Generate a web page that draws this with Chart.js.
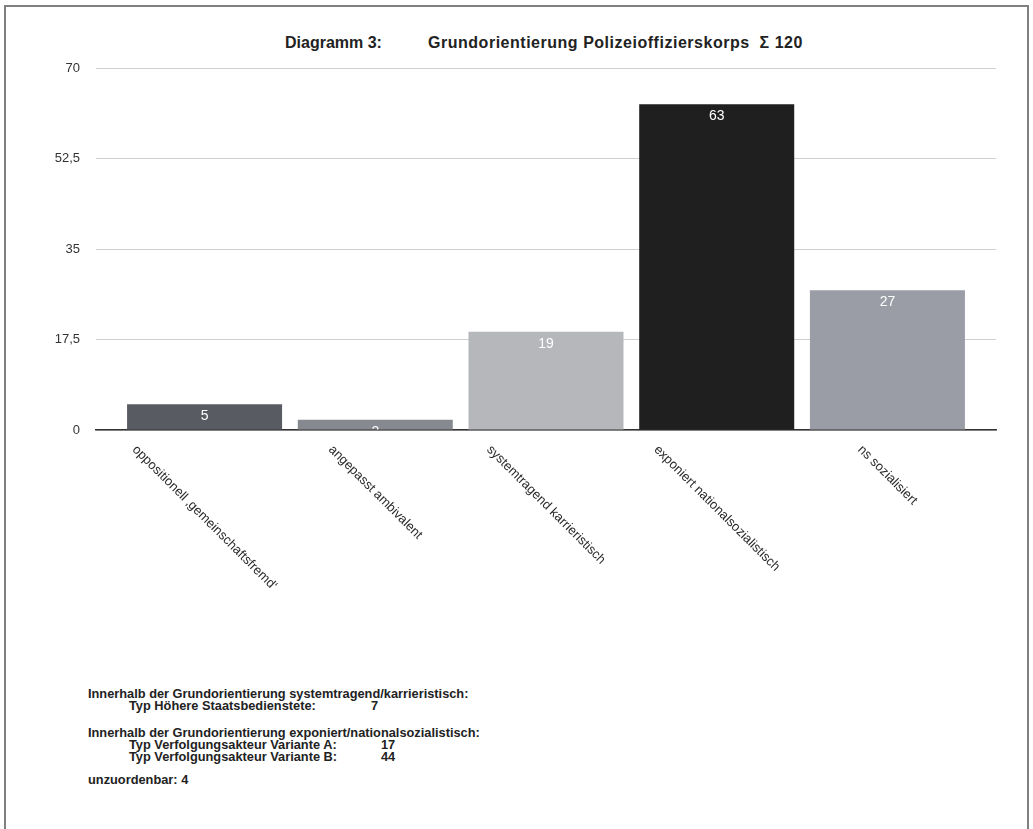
<!DOCTYPE html>
<html>
<head>
<meta charset="utf-8">
<script src="https://cdn.jsdelivr.net/npm/chart.js@4"></script>
<style>
  body { margin: 0; background: #fff; font-family: "Liberation Sans", Arial, sans-serif; }
  .frame { position: absolute; left: 4px; top: 5px; width: 1025px; height: 840px;
           border: 2px solid #808080; box-sizing: border-box; }
  .chart-box { position: absolute; left: 0; top: 0; width: 1033px; height: 640px; }
  .title { position: absolute; top: 34px; font-size: 16px; font-weight: bold; color: #222;
           white-space: pre; line-height: 18px; }
  .notes { position: absolute; left: 88px; top: 688px; font-size: 12.8px; font-weight: bold;
           color: #222; line-height: 11.7px; }
  .notes div { height: 11.7px; position: relative; }
  .notes .gap1 { height: 16px; }
  .notes .gap2 { height: 12px; }
  .notes .ind { padding-left: 41px; }
  .notes .val { position: absolute; left: 293px; }
  .notes .val.one { left: 283px; }
</style>
</head>
<body>
<div class="frame"></div>
<div class="title" style="left:285px">Diagramm 3:</div>
<div class="title" id="mainTitle" style="left:428px">Grundorientierung Polizeioffizierskorps  Σ 120</div>
<div class="chart-box"><canvas id="orientChart" width="1033" height="640"></canvas></div>
<div class="notes">
  <div>Innerhalb der Grundorientierung systemtragend/karrieristisch:</div>
  <div class="ind">Typ Höhere Staatsbedienstete:<span class="val one">7</span></div>
  <div class="gap1"></div>
  <div>Innerhalb der Grundorientierung exponiert/nationalsozialistisch:</div>
  <div class="ind">Typ Verfolgungsakteur Variante A:<span class="val">17</span></div>
  <div class="ind">Typ Verfolgungsakteur Variante B:<span class="val">44</span></div>
  <div class="gap2"></div>
  <div>unzuordenbar: 4</div>
</div>
<script>
// Chart data
const categories = [
    'oppositionell ‚gemeinschaftsfremd‘',
    'angepasst ambivalent',
    'systemtragend karrieristisch',
    'exponiert nationalsozialistisch',
    'ns sozialisiert'
];
const counts = [5, 2, 19, 63, 27];
const barColors = ['#585b62', '#868990', '#b6b7bb', '#1f1f1f', '#9a9da6'];
const yTicks = [0, 17.5, 35, 52.5, 70];

let orientChart;

document.addEventListener('DOMContentLoaded', function() {
    fitTitle();
    initializeChart();
});

// Stretch the main title slightly so it ends where the original does
function fitTitle() {
    const el = document.getElementById('mainTitle');
    const target = 375;
    const w = el.getBoundingClientRect().width;
    const n = el.textContent.length;
    el.style.letterSpacing = ((target - w) / n).toFixed(2) + 'px';
}

// Value labels inside the bars, clipped to each bar
const valueLabels = {
    id: 'valueLabels',
    afterDatasetsDraw(chart) {
        const ctx = chart.ctx;
        const meta = chart.getDatasetMeta(0);
        ctx.save();
        ctx.font = '14px "Liberation Sans", Arial, sans-serif';
        ctx.fillStyle = '#ffffff';
        ctx.textAlign = 'center';
        ctx.textBaseline = 'middle';
        meta.data.forEach(function(bar, i) {
            const half = bar.width / 2;
            ctx.save();
            ctx.beginPath();
            ctx.rect(bar.x - half, bar.y, bar.width, bar.base - bar.y);
            ctx.clip();
            ctx.fillText(String(counts[i]), bar.x, bar.y + 12);
            ctx.restore();
        });
        ctx.restore();
    }
};

// Category labels rotated clockwise, centred under each bar
const slantedLabels = {
    id: 'slantedLabels',
    afterDraw(chart) {
        const ctx = chart.ctx;
        const xScale = chart.scales.x;
        const size = 13;
        ctx.save();
        ctx.font = size + 'px "Liberation Sans", Arial, sans-serif';
        ctx.fillStyle = '#2a2a2a';
        ctx.textAlign = 'center';
        ctx.textBaseline = 'middle';
        categories.forEach(function(label, i) {
            const w = ctx.measureText(label).width;
            const x = xScale.getPixelForValue(i);
            const y = xScale.top + 13 + (w + size) * Math.SQRT1_2 / 2;
            ctx.save();
            ctx.translate(x, y);
            ctx.rotate(Math.PI / 4);
            ctx.fillText(label, 0, 0);
            ctx.restore();
        });
        ctx.restore();
    }
};

function initializeChart() {
    const ctx = document.getElementById('orientChart').getContext('2d');
    orientChart = new Chart(ctx, {
        type: 'bar',
        data: {
            datasets: [{
                data: counts.map(function(v, i) { return { x: i, y: v }; }),
                backgroundColor: barColors,
                borderWidth: 0,
                categoryPercentage: 1,
                barPercentage: 0.908
            }]
        },
        options: {
            responsive: false,
            animation: false,
            layout: { padding: { left: 36, right: 37, top: 68, bottom: 0 } },
            plugins: {
                legend: { display: false },
                tooltip: { enabled: false },
                title: { display: false }
            },
            scales: {
                x: {
                    type: 'linear',
                    min: -0.636,
                    max: 4.636,
                    offset: false,
                    afterBuildTicks: function(scale) {
                        scale.ticks = categories.map(function(c, i) { return { value: i }; });
                    },
                    grid: { display: false, offset: false },
                    border: { display: true, color: '#333', width: 1.5 },
                    ticks: { display: false },
                    afterFit: function(scale) { scale.height = 210; }
                },
                y: {
                    min: 0,
                    max: 70,
                    afterBuildTicks: function(scale) {
                        scale.ticks = yTicks.map(function(v) { return { value: v }; });
                    },
                    grid: { color: '#cfcfcf', lineWidth: 1, drawTicks: false },
                    border: { display: false },
                    ticks: {
                        padding: 16,
                        color: '#333',
                        font: { family: '"Liberation Sans", Arial, sans-serif', size: 13 },
                        callback: function(value) {
                            return String(value).replace('.', ',');
                        }
                    },
                    afterFit: function(scale) { scale.width = 60; }
                }
            }
        },
        plugins: [valueLabels, slantedLabels]
    });
}
</script>
</body>
</html>
